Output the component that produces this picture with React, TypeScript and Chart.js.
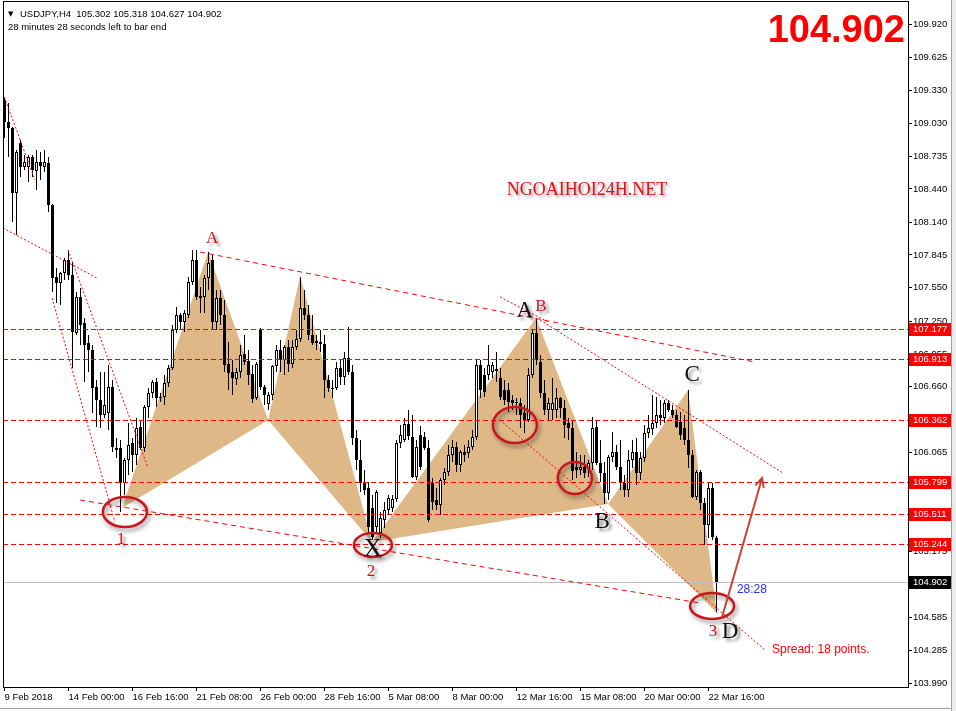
import React, { useEffect, useRef } from 'react';
import Chart from 'chart.js/auto';

// USDJPY H4 candles, 9 Feb 2018 08:00 .. 23 Mar 2018 00:00
const opens = [
  109.240, 109.042, 108.988, 108.403, 108.853, 108.637, 108.637, 108.727, 108.601, 108.682,
  108.637, 108.673, 108.295, 107.647, 107.593, 107.683, 107.800, 107.665, 107.143, 107.467,
  107.233, 107.053, 106.990, 106.657, 106.540, 106.405, 106.423, 106.657, 106.108, 106.108,
  105.793, 106.000, 106.153, 106.045, 106.297, 106.108, 106.477, 106.603, 106.702, 106.558,
  106.567, 106.693, 106.828, 107.170, 107.305, 107.242, 107.305, 107.602, 107.800, 107.476,
  107.467, 107.638, 107.800, 107.242, 107.458, 107.305, 106.864, 106.792, 106.729, 106.792,
  106.954, 106.891, 106.774, 106.558, 107.170, 106.657, 106.504, 106.585, 106.846, 106.990,
  106.900, 107.017, 106.864, 107.017, 107.089, 107.368, 107.305, 107.125, 107.053, 107.062,
  107.044, 106.720, 106.648, 106.648, 106.828, 106.747, 106.918, 106.792, 106.198, 106.000,
  105.793, 105.748, 105.568, 105.397, 105.343, 105.460, 105.550, 105.568, 105.649, 106.153,
  106.180, 106.324, 106.207, 105.847, 106.225, 106.207, 106.108, 105.793, 105.640, 105.595,
  105.820, 105.892, 106.045, 106.117, 105.955, 106.072, 106.063, 106.117, 106.207, 106.855,
  106.765, 106.765, 106.792, 106.801, 106.738, 106.630, 106.630, 106.540, 106.522, 106.513,
  106.423, 106.360, 106.765, 107.143, 106.882, 106.603, 106.450, 106.450, 106.450, 106.558,
  106.468, 106.333, 106.288, 105.937, 105.910, 105.937, 105.928, 105.973, 106.297, 105.973,
  105.883, 105.703, 106.027, 106.072, 105.937, 105.793, 105.730, 106.000, 106.072, 105.883,
  106.018, 106.243, 106.279, 106.333, 106.405, 106.378, 106.513, 106.450, 106.405, 106.342,
  106.288, 106.180, 106.045, 105.667, 105.892, 105.613, 105.415, 105.748, 105.302,
];
const highs = [
  109.267, 109.213, 108.997, 108.790, 108.880, 108.745, 108.745, 108.745, 108.790, 108.772,
  108.790, 108.727, 108.304, 107.728, 107.692, 107.818, 107.890, 107.782, 107.512, 107.548,
  107.278, 107.125, 107.035, 106.720, 106.792, 106.792, 106.855, 106.720, 106.198, 106.180,
  106.018, 106.333, 106.198, 106.378, 106.360, 106.495, 106.648, 106.720, 106.738, 106.603,
  106.765, 106.855, 107.215, 107.377, 107.323, 107.350, 107.647, 107.890, 107.890, 107.557,
  107.665, 107.872, 107.845, 107.530, 107.530, 107.440, 107.062, 106.900, 106.828, 107.035,
  107.125, 106.990, 106.855, 106.882, 107.188, 106.675, 106.612, 106.855, 107.035, 107.080,
  107.035, 107.080, 107.080, 107.170, 107.647, 107.530, 107.395, 107.305, 107.125, 107.170,
  107.125, 106.765, 106.720, 106.882, 106.900, 106.972, 107.197, 106.855, 106.270, 106.180,
  105.910, 105.802, 105.685, 105.730, 105.532, 105.622, 105.685, 105.685, 106.180, 106.315,
  106.378, 106.450, 106.405, 106.180, 106.306, 106.252, 106.180, 105.838, 105.748, 105.838,
  105.928, 106.135, 106.180, 106.162, 106.090, 106.135, 106.180, 106.270, 106.900, 106.900,
  106.828, 107.035, 106.882, 106.972, 106.828, 106.720, 106.693, 106.585, 106.558, 106.558,
  106.495, 106.828, 107.170, 107.278, 106.945, 106.720, 106.558, 106.738, 106.648, 106.567,
  106.540, 106.378, 106.360, 106.072, 106.045, 106.045, 106.000, 106.387, 106.360, 106.180,
  105.982, 106.045, 106.252, 106.135, 106.180, 105.865, 106.090, 106.180, 106.198, 106.072,
  106.315, 106.405, 106.585, 106.567, 106.540, 106.540, 106.540, 106.495, 106.450, 106.432,
  106.405, 106.630, 106.090, 105.910, 105.910, 105.658, 105.793, 105.793, 105.318,
];
const lows = [
  108.898, 108.727, 108.142, 108.025, 108.547, 108.610, 108.502, 108.547, 108.430, 108.520,
  108.592, 108.232, 107.512, 107.413, 107.395, 107.620, 107.620, 106.828, 107.125, 107.035,
  106.702, 106.792, 106.423, 106.297, 106.288, 106.378, 106.270, 106.072, 106.018, 105.532,
  105.685, 105.865, 105.892, 105.955, 106.090, 106.072, 106.378, 106.558, 106.477, 106.522,
  106.495, 106.657, 106.810, 107.143, 107.170, 107.152, 107.278, 107.575, 107.440, 107.323,
  107.323, 107.530, 107.170, 107.170, 107.215, 106.792, 106.630, 106.585, 106.675, 106.738,
  106.855, 106.675, 106.513, 106.540, 106.630, 106.495, 106.450, 106.540, 106.792, 106.792,
  106.765, 106.792, 106.828, 106.990, 107.062, 107.260, 107.080, 107.035, 106.990, 106.972,
  106.558, 106.612, 106.558, 106.630, 106.675, 106.675, 106.765, 106.135, 105.910, 105.712,
  105.685, 105.343, 105.280, 105.343, 105.298, 105.388, 105.505, 105.532, 105.622, 106.108,
  106.162, 106.180, 105.838, 105.820, 105.910, 106.090, 105.442, 105.550, 105.550, 105.505,
  105.775, 105.856, 105.982, 105.892, 105.892, 105.982, 106.018, 106.090, 106.180, 106.558,
  106.567, 106.720, 106.738, 106.702, 106.540, 106.495, 106.432, 106.450, 106.405, 106.288,
  106.243, 106.342, 106.738, 106.855, 106.558, 106.405, 106.360, 106.360, 106.378, 106.378,
  106.198, 106.180, 105.820, 105.838, 105.865, 105.838, 105.847, 105.910, 105.955, 105.802,
  105.604, 105.640, 105.982, 105.910, 105.730, 105.667, 105.667, 105.928, 105.775, 105.820,
  105.982, 106.198, 106.225, 106.288, 106.315, 106.333, 106.432, 106.378, 106.288, 106.180,
  106.135, 105.928, 105.658, 105.640, 105.550, 105.235, 105.298, 105.280, 104.627,
];
const closes = [
  109.042, 108.988, 108.403, 108.772, 108.637, 108.682, 108.727, 108.610, 108.682, 108.646,
  108.682, 108.295, 107.638, 107.593, 107.683, 107.800, 107.665, 107.152, 107.467, 107.215,
  107.035, 106.990, 106.648, 106.540, 106.405, 106.495, 106.657, 106.117, 106.090, 105.793,
  106.000, 106.135, 106.045, 106.288, 106.108, 106.477, 106.603, 106.702, 106.558, 106.567,
  106.693, 106.828, 107.170, 107.305, 107.242, 107.323, 107.602, 107.800, 107.467, 107.458,
  107.638, 107.773, 107.242, 107.458, 107.305, 106.855, 106.783, 106.738, 106.792, 106.945,
  106.882, 106.765, 106.549, 106.864, 106.657, 106.585, 106.585, 106.846, 106.990, 106.900,
  107.017, 106.864, 107.017, 107.089, 107.368, 107.305, 107.125, 107.053, 107.071, 107.044,
  106.720, 106.648, 106.639, 106.828, 106.747, 106.918, 106.792, 106.198, 106.000, 105.793,
  105.730, 105.397, 105.307, 105.712, 105.478, 105.550, 105.658, 105.649, 106.153, 106.225,
  106.324, 106.216, 105.847, 106.117, 105.937, 106.108, 105.460, 105.622, 105.595, 105.820,
  105.892, 106.045, 106.117, 105.955, 106.072, 106.045, 106.117, 106.207, 106.855, 106.630,
  106.612, 106.855, 106.855, 106.819, 106.567, 106.540, 106.522, 106.513, 106.513, 106.405,
  106.360, 106.765, 107.143, 106.900, 106.603, 106.450, 106.513, 106.513, 106.558, 106.468,
  106.315, 106.288, 105.900, 105.910, 105.937, 105.883, 105.973, 106.288, 105.973, 105.883,
  105.703, 106.027, 106.072, 105.937, 105.793, 105.730, 106.000, 106.072, 105.883, 106.018,
  106.243, 106.288, 106.333, 106.405, 106.378, 106.513, 106.450, 106.405, 106.297, 106.225,
  106.180, 106.045, 105.667, 105.892, 105.613, 105.415, 105.748, 105.307, 104.902,
];

// time axis labels, one every 16 bars
const xTickIndex = [0, 16, 32, 48, 64, 80, 96, 112, 128, 144, 160, 176];
const xTickLabels = [
  '9 Feb 2018', '14 Feb 00:00', '16 Feb 16:00', '21 Feb 08:00', '26 Feb 00:00', '28 Feb 16:00',
  '5 Mar 08:00', '8 Mar 00:00', '12 Mar 16:00', '15 Mar 08:00', '20 Mar 00:00', '22 Mar 16:00',
];
const yTicks = [
  109.920, 109.625, 109.330, 109.030, 108.735, 108.440, 108.140, 107.845, 107.550, 107.250,
  106.955, 106.660, 106.365, 106.065, 105.770, 105.475, 105.175, 104.880, 104.585, 104.285, 103.990,
];

// horizontal levels with price tags
const levelPrices = [107.177, 106.913, 106.362, 105.799, 105.511, 105.244];
const bidPrice = closes[closes.length - 1];

// harmonic pattern pivots [bar index, price]
const patternLeft = [[29.4, 105.568], [50.9, 107.872], [65.9, 106.360], [73.9, 107.656], [91.9, 105.262]];
const patternRight = [[91.9, 105.262], [132.9, 107.278], [150.9, 105.604], [170.9, 106.630], [178.1, 104.623]];

// trend lines [i1, p1, i2, p2, dashed-long]
const trendLines = [
  [-0.4, 108.088, 23.1, 107.638, 0],
  [-0.4, 109.303, 7.6, 108.520, 0],
  [15.9, 107.890, 35.9, 105.928, 0],
  [11.9, 107.458, 27.6, 105.442, 0],
  [18.9, 105.640, 173.9, 104.713, 1],
  [48.9, 107.872, 187.6, 106.882, 1],
  [133.9, 107.260, 194.6, 105.883, 0],
  [123.9, 106.360, 190.1, 104.290, 0],
  [123.9, 107.467, 135.9, 107.242, 0],
];

// highlighted zones [bar index, price, rx, ry]
const rings = [
  [30.1, 105.532, 22, 15],
  [92.1, 105.235, 19, 12],
  [127.6, 106.315, 22, 18],
  [142.6, 105.838, 17, 16],
  [176.9, 104.686, 22, 13],
];

// pattern point names [text, bar index, price, colour, size]
const pointLabels: [string, number, number, string, number][] = [
  ['A', 51.9, 107.989, '#C8161D', 17],
  ['1', 29.1, 105.280, '#C8161D', 17],
  ['2', 91.6, 104.992, '#C8161D', 17],
  ['X', 92.1, 105.199, '#111111', 25],
  ['A', 130.1, 107.341, '#111111', 23],
  ['B', 134.1, 107.377, '#C8161D', 17],
  ['B', 149.4, 105.442, '#111111', 23],
  ['C', 171.9, 106.765, '#111111', 23],
  ['3', 177.1, 104.452, '#C8161D', 17],
  ['D', 181.4, 104.452, '#111111', 23],
];

// projected move arrow [i1, p1, i2, p2]
const projection = [179.4, 104.587, 189.4, 105.838];

const symbol = 'USDJPY,H4';
const timerText = '28 minutes 28 seconds left to bar end';
const countdown = '28:28';
const spreadText = 'Spread: 18 points.';
const siteText = 'NGOAIHOI24H.NET';

const FONT_UI = '"Liberation Sans", Arial, sans-serif';
const FONT_SERIF = '"Liberation Serif", "Times New Roman", serif';

function App() {
  const ref = useRef<HTMLCanvasElement>(null);

  useEffect(() => {
    const canvas = ref.current;
    if (!canvas) return;
    const idx = opens.map((_, i) => i);

    const overlay = {
      id: 'mtOverlay',
      beforeDatasetsDraw(chart: any) {
        const { ctx, chartArea: a } = chart;
        const X = (v: number) => chart.scales.x.getPixelForValue(v);
        const Y = (v: number) => chart.scales.y.getPixelForValue(v);
        ctx.save();
        ctx.beginPath();
        ctx.rect(a.left, a.top, a.right - a.left, a.bottom - a.top);
        ctx.clip();
        ctx.fillStyle = '#DEB887';
        [patternLeft, patternRight].forEach((pts) => {
          [[0, 1, 2], [2, 3, 4]].forEach((tri) => {
            ctx.beginPath();
            tri.forEach((k, j) => {
              const px = X(pts[k][0]);
              const py = Y(pts[k][1]);
              if (j === 0) ctx.moveTo(px, py); else ctx.lineTo(px, py);
            });
            ctx.closePath();
            ctx.fill();
          });
        });
        ctx.restore();
      },
      afterDatasetsDraw(chart: any) {
        const { ctx, chartArea: a } = chart;
        const X = (v: number) => chart.scales.x.getPixelForValue(v);
        const Y = (v: number) => chart.scales.y.getPixelForValue(v);
        ctx.save();
        ctx.beginPath();
        ctx.rect(a.left, a.top, a.right - a.left, a.bottom - a.top);
        ctx.clip();

        // bid line
        ctx.strokeStyle = '#C0C0C0';
        ctx.lineWidth = 1;
        ctx.setLineDash([]);
        let yb = Math.round(Y(bidPrice)) + 0.5;
        ctx.beginPath();
        ctx.moveTo(a.left, yb);
        ctx.lineTo(a.right, yb);
        ctx.stroke();

        // price levels
        ctx.strokeStyle = '#FF0000';
        ctx.setLineDash([5, 3]);
        levelPrices.forEach((p) => {
          const y = Math.round(Y(p)) + 0.5;
          ctx.beginPath();
          ctx.moveTo(a.left, y);
          ctx.lineTo(a.right, y);
          ctx.stroke();
        });

        // trend lines
        trendLines.forEach(([i1, p1, i2, p2, long]) => {
          ctx.setLineDash(long ? [5, 4] : [2, 2]);
          ctx.beginPath();
          ctx.moveTo(X(i1), Y(p1));
          ctx.lineTo(X(i2), Y(p2));
          ctx.stroke();
        });
        ctx.setLineDash([]);

        // rings
        rings.forEach(([i, p, rx, ry]) => {
          ctx.save();
          ctx.shadowColor = 'rgba(0,0,0,0.45)';
          ctx.shadowBlur = 4;
          ctx.shadowOffsetX = 2;
          ctx.shadowOffsetY = 3;
          ctx.strokeStyle = '#C8161D';
          ctx.lineWidth = 2.5;
          ctx.beginPath();
          ctx.ellipse(X(i), Y(p), rx, ry, 0, 0, Math.PI * 2);
          ctx.stroke();
          ctx.restore();
        });

        // projection arrow
        const ax1 = X(projection[0]), ay1 = Y(projection[1]);
        const ax2 = X(projection[2]), ay2 = Y(projection[3]);
        ctx.strokeStyle = '#C8432F';
        ctx.lineWidth = 2;
        ctx.beginPath();
        ctx.moveTo(ax1, ay1);
        ctx.lineTo(ax2, ay2);
        const ang = Math.atan2(ay2 - ay1, ax2 - ax1);
        ctx.moveTo(ax2 - 10 * Math.cos(ang - 0.45), ay2 - 10 * Math.sin(ang - 0.45));
        ctx.lineTo(ax2, ay2);
        ctx.lineTo(ax2 - 10 * Math.cos(ang + 0.45), ay2 - 10 * Math.sin(ang + 0.45));
        ctx.stroke();

        // point names
        ctx.textAlign = 'center';
        ctx.textBaseline = 'middle';
        pointLabels.forEach(([t, i, p, col, size]) => {
          ctx.save();
          ctx.shadowColor = 'rgba(0,0,0,0.45)';
          ctx.shadowBlur = 3;
          ctx.shadowOffsetX = 3;
          ctx.shadowOffsetY = 3;
          ctx.fillStyle = col;
          ctx.font = `${size}px ${FONT_SERIF}`;
          ctx.fillText(t, X(i), Y(p));
          ctx.restore();
        });

        // site caption
        ctx.save();
        ctx.shadowColor = 'rgba(0,0,0,0.4)';
        ctx.shadowBlur = 3;
        ctx.shadowOffsetX = 2;
        ctx.shadowOffsetY = 2;
        ctx.fillStyle = '#E01010';
        ctx.font = `18px ${FONT_SERIF}`;
        ctx.fillText(siteText, X(145.6), Y(108.43));
        ctx.restore();

        // countdown and spread
        ctx.textAlign = 'left';
        ctx.font = `12px ${FONT_UI}`;
        ctx.fillStyle = '#2B2BFF';
        ctx.fillText(countdown, X(183.1), Y(104.83));
        ctx.fillStyle = '#FF0000';
        ctx.fillText(spreadText, X(191.9), Y(104.29));
        ctx.restore();
      },
      afterDraw(chart: any) {
        const { ctx, chartArea: a } = chart;
        const Y = (v: number) => chart.scales.y.getPixelForValue(v);
        ctx.save();
        // frame
        ctx.strokeStyle = '#000';
        ctx.lineWidth = 1;
        ctx.strokeRect(a.left + 0.5, a.top + 0.5, a.right - a.left, a.bottom - a.top);

        // price tags
        ctx.font = `9.5px ${FONT_UI}`;
        ctx.textAlign = 'left';
        ctx.textBaseline = 'middle';
        const tag = (p: number, bg: string) => {
          const y = Math.round(Y(p));
          ctx.fillStyle = bg;
          ctx.fillRect(a.right + 1, y - 6, 43, 13);
          ctx.fillStyle = '#FFFFFF';
          ctx.fillText(p.toFixed(3), a.right + 5, y + 0.5);
        };
        levelPrices.forEach((p) => tag(p, '#FF0000'));
        tag(bidPrice, '#000000');

        // header
        const last = opens.length - 1;
        ctx.fillStyle = '#000';
        ctx.font = `7px "DejaVu Sans", sans-serif`;
        ctx.fillText('▼', 8, 14);
        ctx.font = `9.5px ${FONT_UI}`;
        ctx.fillText(
          `${symbol}  ${opens[last].toFixed(3)} ${highs[last].toFixed(3)} ${lows[last].toFixed(3)} ${closes[last].toFixed(3)}`,
          20, 14);
        ctx.fillText(timerText, 8, 27);

        // large bid
        ctx.fillStyle = '#FF0000';
        ctx.font = `bold 38px ${FONT_UI}`;
        ctx.textAlign = 'right';
        ctx.textBaseline = 'alphabetic';
        ctx.fillText(bidPrice.toFixed(3), 905, 42);

        // window edge
        ctx.fillStyle = '#ECECEC';
        ctx.fillRect(952, 0, 4, 711);
        ctx.strokeStyle = '#A0A0A0';
        ctx.beginPath();
        ctx.moveTo(951.5, 0);
        ctx.lineTo(951.5, 711);
        ctx.moveTo(0, 708.5);
        ctx.lineTo(952, 708.5);
        ctx.stroke();
        ctx.restore();
      },
    };

    const chart = new Chart(canvas, {
      type: 'bar',
      data: {
        datasets: [
          {
            label: 'wick',
            data: idx.map((i) => ({ x: i, y: [lows[i], highs[i]] })),
            backgroundColor: '#000',
            borderWidth: 0,
            barThickness: 1,
            grouped: false,
            inflateAmount: 0,
            order: 2,
          } as any,
          {
            label: 'body',
            data: idx.map((i) => ({ x: i, y: [opens[i], closes[i]] })),
            backgroundColor: idx.map((i) => (closes[i] >= opens[i] ? '#FFFFFF' : '#000000')),
            borderColor: '#000',
            borderWidth: 1,
            borderSkipped: false,
            barThickness: 3,
            grouped: false,
            inflateAmount: 0,
            order: 1,
          } as any,
        ],
      },
      options: {
        responsive: false,
        animation: false,
        events: [],
        layout: { padding: { left: 3, top: 1, right: 0, bottom: 0 } },
        plugins: {
          legend: { display: false },
          tooltip: { enabled: false },
          title: { display: false },
        },
        scales: {
          x: {
            type: 'linear',
            min: -0.375,
            max: 225.875,
            offset: false,
            afterBuildTicks: (s: any) => {
              s.ticks = xTickIndex.map((v) => ({ value: v }));
            },
            afterFit: (s: any) => {
              s.height = 24;
              s.paddingLeft = 0;
              s.paddingRight = 0;
            },
            grid: { drawOnChartArea: false, drawTicks: true, tickLength: 4, color: '#000', offset: false },
            border: { display: false },
            ticks: {
              autoSkip: false,
              maxRotation: 0,
              minRotation: 0,
              align: 'start',
              padding: 1,
              color: '#000',
              font: { family: FONT_UI, size: 9.5 },
              callback: (v: any) => {
                const k = xTickIndex.indexOf(Number(v));
                return k >= 0 ? xTickLabels[k] : '';
              },
            },
          },
          y: {
            type: 'linear',
            position: 'right',
            min: 103.957,
            max: 110.131,
            beginAtZero: false,
            afterBuildTicks: (s: any) => {
              s.ticks = yTicks.map((v) => ({ value: v }));
            },
            afterFit: (s: any) => {
              s.width = 48;
              s.paddingTop = 0;
              s.paddingBottom = 0;
            },
            grid: { drawOnChartArea: false, drawTicks: true, tickLength: 4, color: '#000' },
            border: { display: false },
            ticks: {
              autoSkip: false,
              padding: 1,
              color: '#000',
              font: { family: FONT_UI, size: 9.5 },
              callback: (v: any) => Number(v).toFixed(3),
            },
          },
        },
      } as any,
      plugins: [overlay],
    });

    return () => chart.destroy();
  }, []);

  return (
    <div style={{ position: 'fixed', left: 0, top: 0, width: 956, height: 711, background: '#FFFFFF' }}>
      <canvas ref={ref} width={956} height={711} style={{ display: 'block', width: 956, height: 711 }} />
    </div>
  );
}

export default App;
